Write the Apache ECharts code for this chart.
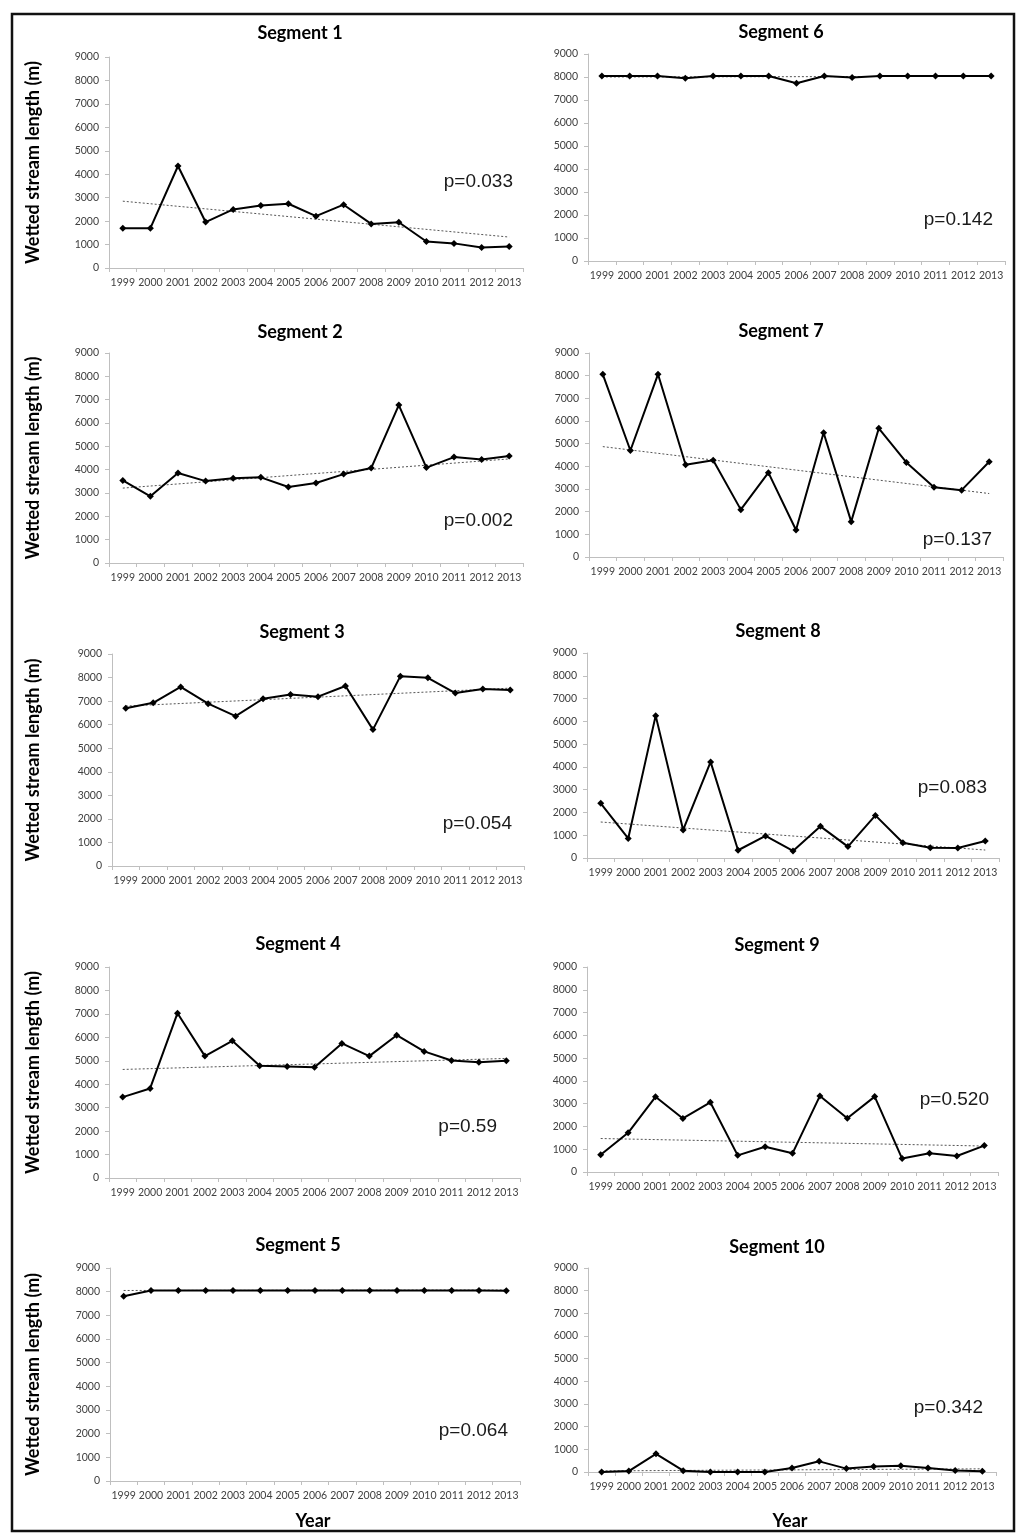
<!DOCTYPE html>
<html><head><meta charset="utf-8">
<script src="https://cdn.jsdelivr.net/npm/echarts@6/dist/echarts.min.js"></script>
<style>html,body{margin:0;padding:0;background:#fff}#c{width:1024px;height:1538px}</style>
</head><body><div id="c"></div>
<script>
// ---- data ----
const years = ['1999','2000','2001','2002','2003','2004','2005','2006','2007','2008','2009','2010','2011','2012','2013'];
const yTicks = [0,1000,2000,3000,4000,5000,6000,7000,8000,9000];
const segTitles = ['Segment 1','Segment 2','Segment 3','Segment 4','Segment 5','Segment 6','Segment 7','Segment 8','Segment 9','Segment 10'];
const pLabels = ['p=0.033','p=0.002','p=0.054','p=0.59','p=0.064','p=0.142','p=0.137','p=0.083','p=0.520','p=0.342'];
const yName = 'Wetted stream length (m)';
const xName = 'Year';

const seg1  = [1700,1700,4350,1960,2500,2670,2740,2210,2700,1880,1950,1130,1050,870,920];
const seg2  = [3540,2860,3860,3510,3630,3670,3260,3430,3810,4070,6770,4090,4540,4440,4590];
const seg3  = [6700,6930,7600,6890,6360,7100,7280,7190,7640,5790,8060,7990,7340,7510,7470];
const seg4  = [3450,3820,7030,5200,5850,4790,4760,4720,5740,5200,6090,5400,5010,4940,5000];
const seg5  = [7810,8050,8050,8050,8050,8050,8050,8050,8050,8050,8050,8050,8050,8050,8040];
const seg6  = [8040,8040,8040,7950,8040,8040,8040,7730,8040,7980,8040,8040,8040,8040,8040];
const seg7  = [8060,4700,8060,4070,4270,2090,3720,1190,5480,1560,5680,4170,3080,2950,4200];
const seg8  = [2400,860,6250,1230,4220,340,970,310,1390,500,1870,670,450,440,750];
const seg9  = [760,1720,3300,2350,3060,730,1110,820,3340,2360,3310,590,820,700,1160];
const seg10 = [0,40,800,60,0,0,0,180,470,150,240,280,180,70,30];

// linear trend line end values (1999, 2013)
const trend1  = [2850,1320];
const trend2  = [3210,4460];
const trend3  = [6790,7550];
const trend4  = [4630,5100];
const trend5  = [8050,8070];
const trend6  = [8000,8030];
const trend7  = [4870,2800];
const trend8  = [1580,350];
const trend9  = [1470,1140];
const trend10 = [50,140];

const segValues = [seg1,seg2,seg3,seg4,seg5,seg6,seg7,seg8,seg9,seg10];
const segTrends = [trend1,trend2,trend3,trend4,trend5,trend6,trend7,trend8,trend9,trend10];

// ---- layout ----
// [left, top, width, height]
const grids = [
  [109,57,414,211],
  [109,353,414,210],
  [112,654,412,212],
  [109,967,411,211],
  [110,1268,410,213],
  [588,54,417,207],
  [589,353,414,204],
  [587,653,412,205],
  [587,967,411,205],
  [588,1268,408,204]
];
const titlePos = [[300,33],[300,332],[302,632],[298,944],[298,1245],[781,32],[781,331],[778,631],[777,945],[777,1247]];
const pPos = [[513,182],[513,521],[512,824],[497,1127],[508,1431],[993,220],[992,540],[987,788],[989,1100],[983,1408]];

const axisGrey = '#bfbfbf';
const labelCol = '#404040';

const option = {
  animation:false,
  backgroundColor:'#fff',
  grid:[], xAxis:[], yAxis:[], series:[], graphic:[]
};

grids.forEach((g,i)=>{
  option.grid.push({left:g[0], top:g[1], width:g[2], height:g[3], containLabel:false});
  option.xAxis.push({
    type:'category', gridIndex:i, data:years, boundaryGap:true,
    axisLine:{lineStyle:{color:axisGrey,width:1}},
    axisTick:{show:true,length:4,lineStyle:{color:axisGrey}},
    axisLabel:{interval:0,fontFamily:'Lato',fontSize:10.5,color:labelCol,margin:9},
    splitLine:{show:false}
  });
  option.yAxis.push({
    type:'value', gridIndex:i, min:yTicks[0], max:yTicks[yTicks.length-1], interval:1000,
    axisLine:{show:true,lineStyle:{color:axisGrey,width:1}},
    axisTick:{show:true,length:4,lineStyle:{color:axisGrey}},
    axisLabel:{fontFamily:'Lato',fontSize:10.5,color:labelCol,margin:10,formatter:(v)=>String(v)},
    splitLine:{show:false}
  });
  const t = segTrends[i];
  option.series.push({
    type:'line', xAxisIndex:i, yAxisIndex:i,
    data:[[years[0],t[0]],[years[years.length-1],t[1]]],
    symbol:'none', silent:true, z:2,
    lineStyle:{color:'#555',width:1,type:[2,2]}
  });
  option.series.push({
    type:'line', xAxisIndex:i, yAxisIndex:i, data:segValues[i],
    symbol:'diamond', symbolSize:7, silent:true, z:3,
    lineStyle:{color:'#000',width:2}, itemStyle:{color:'#000'}
  });
  option.graphic.push({type:'text', x:titlePos[i][0], y:titlePos[i][1], silent:true,
    style:{text:segTitles[i], font:'bold 18px Lato', fill:'#000', textAlign:'center', textVerticalAlign:'middle'}});
  option.graphic.push({type:'text', x:pPos[i][0], y:pPos[i][1], silent:true,
    style:{text:pLabels[i], font:'19px "Liberation Sans", Arial, sans-serif', fill:'#1a1a1a', textAlign:'right', textVerticalAlign:'middle'}});
  if (i < 5) {
    option.graphic.push({type:'text', x:33, y:g[1]+g[3]/2, rotation:Math.PI/2, silent:true,
      style:{text:yName, font:'bold 18px Lato', fill:'#000', textAlign:'center', textVerticalAlign:'middle'}});
  }
});
option.graphic.push({type:'text', x:313, y:1521, silent:true,
  style:{text:xName, font:'bold 18px Lato', fill:'#000', textAlign:'center', textVerticalAlign:'middle'}});
option.graphic.push({type:'text', x:790, y:1521, silent:true,
  style:{text:xName, font:'bold 18px Lato', fill:'#000', textAlign:'center', textVerticalAlign:'middle'}});
option.graphic.push({type:'rect', silent:true, z:-1,
  shape:{x:12,y:14,width:1002,height:1517},
  style:{fill:null, stroke:'#111', lineWidth:2.5}});

const chart = echarts.init(document.getElementById('c'), null, {renderer:'canvas'});
chart.setOption(option);
</script>
</body></html>
